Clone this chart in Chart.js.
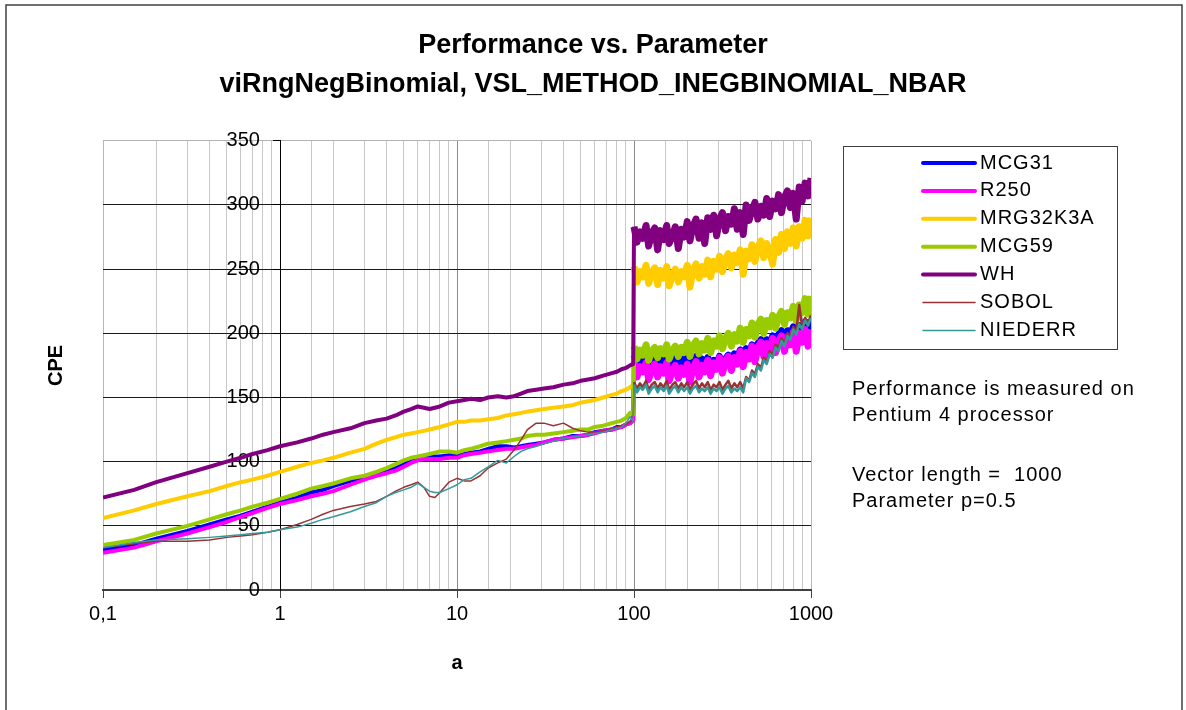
<!DOCTYPE html>
<html><head><meta charset="utf-8">
<script src="https://cdn.jsdelivr.net/npm/chart.js@4.4.1/dist/chart.umd.min.js"></script>
<style>html,body{margin:0;padding:0;background:#fff;overflow:hidden}canvas{display:block}</style>
</head><body>
<canvas id="c" width="1186" height="710"></canvas>
<script>
const titleLines = ['Performance vs. Parameter', 'viRngNegBinomial, VSL_METHOD_INEGBINOMIAL_NBAR'];
const xTitle = 'a';
const yTitle = 'CPE';
const seriesNames = ['MCG31', 'R250', 'MRG32K3A', 'MCG59', 'WH', 'SOBOL', 'NIEDERR'];
const seriesColors = ['#0000ff', '#ff00ff', '#ffcc00', '#99cc00', '#800080', '#993333', '#339999'];
const seriesWidths = [4, 4, 4, 4, 4, 1.5, 1.5];
const noisyWidths = [7, 7, 7, 7, 7, 2.5, 2.5];
const notes = ['Performance is measured on', 'Pentium 4 processor', '', 'Vector length =  1000', 'Parameter p=0.5'];
const xTickValues = [0.1, 1, 10, 100, 1000];
const xTickLabels = ['0,1', '1', '10', '100', '1000'];
const yTickValues = [0, 50, 100, 150, 200, 250, 300, 350];

// a values, below the jump (0.1 .. 99)
const xLow = [0.1, 0.15, 0.2, 0.3, 0.4, 0.5, 0.6, 0.7, 0.85, 1, 1.25, 1.5, 1.75, 2, 2.5, 3, 3.5, 4, 4.5, 5, 5.5, 6, 6.5, 7, 7.5, 8, 9, 10, 11, 12, 13.5, 15, 17, 19, 21, 23, 25, 28, 31, 35, 40, 45, 50, 55, 60, 67, 75, 80, 85, 90, 95, 99];
// a values, above the jump (100 .. 1000)
const xHigh = [100, 104, 108, 112, 117, 121, 126, 131, 136, 141, 147, 153, 158, 165, 171, 178, 185, 192, 200, 207, 215, 224, 233, 242, 251, 261, 271, 282, 293, 304, 316, 329, 341, 355, 369, 383, 398, 414, 430, 447, 464, 482, 501, 521, 541, 562, 584, 607, 631, 656, 681, 708, 736, 764, 794, 825, 858, 891, 926, 962, 1000];

const mcg31Low = [31,35,40,46,51,55,58,61,65,68, 72,76,78,81,85,88,90,93,95,98, 100,102,104,104,104,104,105,105,106,107, 108,110,112,112,111,112,113,114,115,117, 118,120,120,121,123,124,125,127,127,129, 130,133];
const mcg31High = [183,175,180,177,182,174,179,183,175,181, 176,182,174,179,183,175,180,176,182,173, 179,182,174,180,175,181,173,179,176,182, 174,180,183,176,184,179,187,180,188,183, 191,184,192,195,187,195,190,198,191,199, 202,194,202,198,205,199,206,202,209,203, 210];

const r250Low = [29,33,38,44,49,53,57,60,64,67, 70,73,75,77,82,86,89,91,93,96, 99,101,102,102,102,102,103,103,105,106, 107,108,109,110,110,111,112,113,115,117, 118,119,120,121,122,124,125,126,127,129, 130,132];
const r250High = [178,166,174,170,177,164,172,176,166,174, 169,177,163,171,175,165,173,168,176,162, 172,178,166,175,170,179,167,177,172,181, 169,178,182,171,181,176,186,174,185,180, 190,178,189,193,182,192,187,196,185,194, 198,186,197,191,201,186,200,193,203,190, 203];

const mrgLow = [56,62,67,73,77,81,84,86,89,92, 96,99,101,103,107,110,114,117,119,121, 122,123,124,125,126,127,129,131,131,132, 132,133,134,136,137,138,139,140,141,142, 143,144,146,147,148,150,152,153,155,156, 158,160];
const mrgHigh = [252,240,248,244,253,239,247,251,238,249, 243,252,237,246,250,240,248,244,253,236, 249,254,243,252,246,257,244,256,250,260, 248,258,262,251,261,255,265,246,264,258, 269,256,267,272,259,270,264,254,273,263, 277,266,279,270,282,268,283,274,288,276, 290];

const mcg59Low = [35,39,44,50,55,59,62,65,68,71, 75,79,81,83,87,89,92,95,98,101, 103,104,105,106,107,108,108,107,109,110, 112,114,115,116,117,118,120,121,121,122, 123,124,125,125,127,128,130,131,132,134, 138,137];
const mcg59High = [190,180,187,183,191,179,186,189,181,188, 184,191,180,187,190,182,189,185,193,182, 190,194,184,192,187,196,185,194,190,198, 188,196,200,190,199,194,204,193,203,198, 208,197,207,211,200,210,205,214,204,213, 217,207,216,212,221,210,222,216,227,215, 229];

const whLow = [72,78,84,91,96,100,103,106,109,112, 115,118,121,123,126,130,132,133.5,136,139, 141,143,142,141,142,143,146,147,148,149, 148,150,151,150,151,153,155,156,157,158, 160,161,163,164,165,167,169,170,172,173, 175,176];
const whHigh = [283,271,279,274,284,268,278,282,265,280, 273,284,270,276,283,266,281,275,287,272, 283,289,274,286,270,290,281,292,276,289, 294,280,291,285,297,281,294,277,300,288, 296,302,289,299,292,305,291,303,297,308, 294,306,311,298,309,289,314,303,317,307, 321];

const sobolLow = [33,36,38,38,39,41,42,43,45,47, 51,55,59,62,65,67,69,73,77,80, 82,84,80,73,72,76,84,87,85,85, 89,95,99,102,109,117,125,130,130,128, 130,126,124,123,123,124,126,127,128,129, 131,133];
const sobolHigh = [162,157,161,158,163,156,160,162,157,161, 158,163,156,160,162,157,161,158,162,156, 160,163,157,161,158,162,156,160,158,162, 156,160,163,157,161,158,162,157,166,163, 171,168,176,173,181,178,186,183,191,188, 196,192,200,197,205,201,222,205,212,208, 214];

const niederrLow = [33,37,39,40,41,42,43,44,45,47, 49,52,55,57,61,65,68,73,76,78, 80,83,80,77,76,76,79,82,86,87, 92,96,101,99,104,108,110,112,114,116, 118,119,120,121,122,123,125,126,127,130, 135,131];
const niederrHigh = [160,154,158,156,160,153,157,159,154,158, 155,159,153,157,159,154,158,155,158,153, 157,159,154,157,155,158,153,157,155,158, 153,157,159,154,157,155,158,154,165,162, 169,166,174,171,179,176,184,181,189,186, 194,190,198,195,203,199,207,203,210,206, 212];

const lows = [mcg31Low, r250Low, mrgLow, mcg59Low, whLow, sobolLow, niederrLow];
const highs = [mcg31High, r250High, mrgHigh, mcg59High, whHigh, sobolHigh, niederrHigh];

function points(lo, hi) {
  return xLow.map((x, i) => ({x: x, y: lo[i]})).concat(xHigh.map((x, i) => ({x: x, y: hi[i]})));
}

const datasets = seriesNames.map((name, i) => ({
  label: name,
  data: points(lows[i], highs[i]),
  borderColor: seriesColors[i],
  backgroundColor: seriesColors[i],
  borderWidth: seriesWidths[i],
  pointRadius: 0,
  tension: 0,
  fill: false,
  order: -i,
  borderJoinStyle: 'round',
  segment: { borderWidth: ctx => (ctx.p0.parsed.x >= 100 ? noisyWidths[i] : undefined) },
  xAxisID: 'x',
  yAxisID: 'y'
}));

const FONT = "'Liberation Sans', Arial, sans-serif";
Chart.defaults.font.family = FONT;
Chart.defaults.color = '#000';

function isDecade(v) { const l = Math.log10(v); return Math.abs(l - Math.round(l)) < 1e-6; }

const decor = {
  id: 'decor',
  beforeDraw(chart) {
    const c = chart.ctx;
    c.save();
    c.fillStyle = '#fff';
    c.fillRect(0, 0, chart.width, chart.height);
    c.strokeStyle = '#404040';
    c.lineWidth = 1.5;
    c.strokeRect(6, 5, 1176, 730);
    c.restore();
  },
  afterDraw(chart) {
    const c = chart.ctx;
    c.save();
    c.strokeStyle = '#404040';
    c.lineWidth = 1;
    c.strokeRect(843.5, 146.5, 274, 203);
    c.font = '20px ' + FONT;
    try { c.letterSpacing = '1px'; } catch (e) {}
    c.textBaseline = 'middle';
    c.textAlign = 'left';
    seriesNames.forEach((name, i) => {
      const y = 163 + i * 27.9;
      c.strokeStyle = seriesColors[i];
      c.lineWidth = seriesWidths[i];
      c.lineCap = 'round';
      c.beginPath(); c.moveTo(923, y); c.lineTo(975, y); c.stroke();
      c.fillStyle = '#000';
      c.fillText(name, 980, y);
    });
    const noteY = [389, 415, 445, 475, 501];
    notes.forEach((t, i) => { if (t) c.fillText(t, 852, noteY[i]); });
    c.restore();
  }
};

new Chart(document.getElementById('c'), {
  type: 'line',
  data: { datasets: datasets },
  plugins: [decor],
  options: {
    responsive: false,
    animation: false,
    devicePixelRatio: 1,
    layout: { padding: 0 },
    plugins: {
      legend: { display: false },
      tooltip: { enabled: false },
      title: {
        display: true,
        text: titleLines,
        color: '#000',
        font: { size: 27, weight: 'bold', lineHeight: 1.44 },
        padding: { top: 26, bottom: 37 }
      }
    },
    scales: {
      x: {
        type: 'logarithmic',
        position: 'bottom',
        min: 0.1, max: 1000,
        afterFit(s) { s.height = 120; },
        ticks: {
          autoSkip: false, maxRotation: 0, minRotation: 0, padding: 4,
          font: { size: 20 }, color: '#000',
          callback(v) {
            const k = xTickValues.findIndex(t => Math.abs(t - v) / t < 1e-6);
            return k >= 0 ? xTickLabels[k] : '';
          }
        },
        grid: {
          color(ctx) {
            const v = ctx.tick.value;
            if (!isDecade(v)) return '#c8c8c8';
            if (v === 10 || v === 100) return '#8c8c8c';
            if (Math.abs(v - 1) < 1e-9) return '#000';
            return '#b8b8b8';
          },
          tickColor(ctx) { return isDecade(ctx.tick.value) ? '#404040' : 'rgba(0,0,0,0)'; },
          tickLength: 8,
          lineWidth: 1
        },
        border: { color: '#404040', width: 2 },
        title: { display: true, text: xTitle, color: '#000', font: { size: 20, weight: 'bold' }, padding: { top: 0, bottom: 35 } }
      },
      y: {
        type: 'linear',
        position: { x: 1 },
        min: 0, max: 350,
        ticks: { display: false, stepSize: 50 },
        grid: {
          color(ctx) {
            const v = ctx.tick.value;
            if (v === 350) return '#b4b4b4';
            if (v === 0) return 'rgba(0,0,0,0)';
            return '#1a1a1a';
          },
          tickColor: '#000',
          tickLength: 7,
          lineWidth: 1
        },
        border: { color: '#000', width: 1 }
      },
      yLab: {
        type: 'linear',
        position: { x: 0.7706 },
        min: 0, max: 350,
        ticks: {
          stepSize: 50, padding: 0, font: { size: 20 }, color: '#000',
          callback(v) { return yTickValues.includes(v) ? String(v) : ''; }
        },
        grid: { display: false, drawTicks: false },
        border: { display: false }
      },
      yL: {
        type: 'linear',
        position: 'left',
        afterFit(s) { s.width = 103; },
        ticks: { display: false },
        grid: { display: false, drawTicks: false },
        border: { display: false },
        title: { display: true, text: yTitle, color: '#000', font: { size: 20, weight: 'bold' }, padding: { top: 44, bottom: 0 } }
      },
      yR: {
        type: 'linear',
        position: 'right',
        afterFit(s) { s.width = 375; },
        ticks: { display: false },
        grid: { display: false, drawTicks: false },
        border: { display: false }
      }
    }
  }
});
</script>
</body></html>
